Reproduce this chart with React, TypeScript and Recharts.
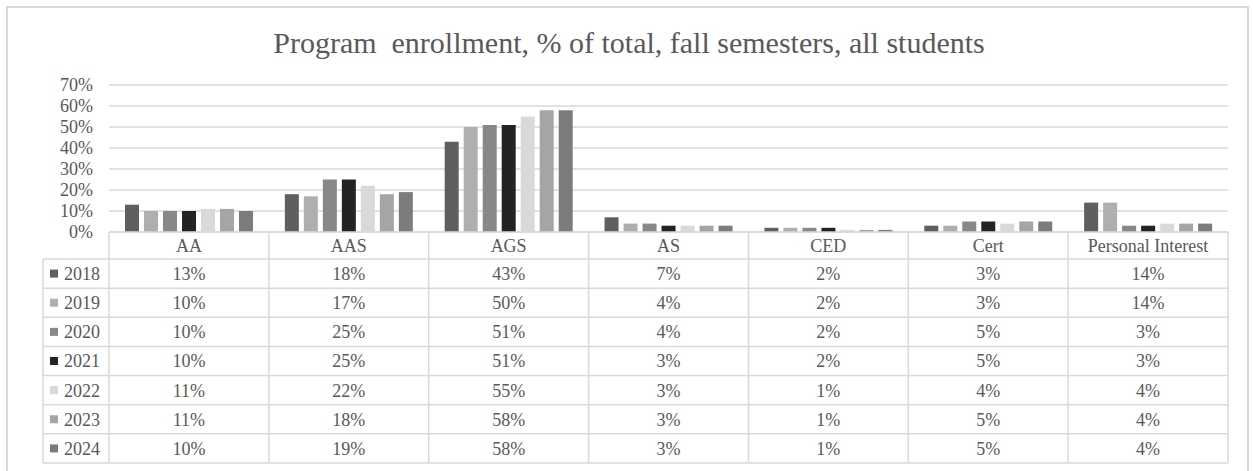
import React from 'react';
import { Bar, BarChart, CartesianGrid, XAxis, YAxis } from 'recharts';

const programs = ['AA', 'AAS', 'AGS', 'AS', 'CED', 'Cert', 'Personal Interest'];
const years = ['2018', '2019', '2020', '2021', '2022', '2023', '2024'];

const v2018 = [13, 18, 43, 7, 2, 3, 14];
const v2019 = [10, 17, 50, 4, 2, 3, 14];
const v2020 = [10, 25, 51, 4, 2, 5, 3];
const v2021 = [10, 25, 51, 3, 2, 5, 3];
const v2022 = [11, 22, 55, 3, 1, 4, 4];
const v2023 = [11, 18, 58, 3, 1, 5, 4];
const v2024 = [10, 19, 58, 3, 1, 5, 4];

const yTicks = [0, 10, 20, 30, 40, 50, 60, 70];

const seriesValues = [v2018, v2019, v2020, v2021, v2022, v2023, v2024];
const barColors = ['#5f5f5f', '#afafaf', '#888888', '#232323', '#d9d9d9', '#a5a5a5', '#7c7c7c'];

const data = programs.map((name, i) => {
  const row: Record<string, string | number> = { name };
  years.forEach((y, j) => {
    row[y] = seriesValues[j][i];
  });
  return row;
});

const FONT = 'Liberation Serif, DejaVu Serif, serif';
const TEXT = '#595959';
const LINE = '#d9d9d9';
const FS = 18;
const HEADER_H = 27;
const ROW_H = 29.14;

// each category tick draws its own column of the data table
const TableTick = (props: any) => {
  const { x, y, payload, index, width } = props;
  const band = (width || 1119) / programs.length;
  const left = x - band / 2;
  const right = x + band / 2;
  const bottom = y + HEADER_H + ROW_H * years.length;
  const legendLeft = 43;

  return (
    <g>
      <line x1={left} y1={y} x2={left} y2={bottom} stroke={LINE} strokeWidth={1.5} />
      {index === programs.length - 1 && (
        <line x1={right} y1={y} x2={right} y2={bottom} stroke={LINE} strokeWidth={1.5} />
      )}
      {years.map((_, k) => (
        <line
          key={k}
          x1={index === 0 ? legendLeft : left}
          y1={y + HEADER_H + ROW_H * k}
          x2={right}
          y2={y + HEADER_H + ROW_H * k}
          stroke={LINE}
          strokeWidth={1.5}
        />
      ))}
      <line
        x1={index === 0 ? legendLeft : left}
        y1={bottom}
        x2={right}
        y2={bottom}
        stroke={LINE}
        strokeWidth={1.5}
      />
      <text
        x={x}
        y={y + HEADER_H / 2}
        dy={6.5}
        textAnchor="middle"
        fontSize={FS}
        fontFamily={FONT}
        fill={TEXT}
      >
        {payload.value}
      </text>
      {years.map((yr, k) => (
        <text
          key={yr}
          x={x}
          y={y + HEADER_H + ROW_H * k + ROW_H / 2}
          dy={6.5}
          textAnchor="middle"
          fontSize={FS}
          fontFamily={FONT}
          fill={TEXT}
        >
          {seriesValues[k][index]}%
        </text>
      ))}
      {index === 0 && (
        <g>
          <line
            x1={legendLeft}
            y1={y + HEADER_H}
            x2={legendLeft}
            y2={bottom}
            stroke={LINE}
            strokeWidth={1.5}
          />
          {years.map((yr, k) => {
            const cy = y + HEADER_H + ROW_H * k + ROW_H / 2;
            return (
              <g key={yr}>
                <rect x={50} y={cy - 4} width={8} height={8} fill={barColors[k]} />
                <text
                  x={64}
                  y={cy}
                  dy={6.5}
                  fontSize={FS}
                  fontFamily={FONT}
                  fill={TEXT}
                >
                  {yr}
                </text>
              </g>
            );
          })}
        </g>
      )}
    </g>
  );
};

const App: React.FC = () => {
  return (
    <div style={{ position: 'absolute', left: 0, top: 0, width: 1253, height: 471, background: '#fff', overflow: 'hidden' }}>
      <div
        style={{
          position: 'absolute',
          left: 6,
          top: 6,
          width: 1243,
          height: 480,
          border: `2px solid ${LINE}`,
          boxSizing: 'border-box',
        }}
      />
      <div
        style={{
          position: 'absolute',
          left: 0,
          top: 26,
          width: 1258,
          textAlign: 'center',
          fontFamily: FONT,
          fontSize: 30,
          color: TEXT,
          whiteSpace: 'pre',
          lineHeight: '34px',
        }}
      >
        {'Program  enrollment, % of total, fall semesters, all students'}
      </div>
      <BarChart
        width={1253}
        height={471}
        data={data}
        margin={{ top: 85, right: 25, bottom: 8, left: 49 }}
        barCategoryGap="10%"
        barGap={5}
        style={{ position: 'absolute', left: 0, top: 0 }}
      >
        <CartesianGrid vertical={false} stroke={LINE} strokeWidth={1.5} />
        <XAxis
          dataKey="name"
          height={231}
          tickSize={0}
          tickMargin={0}
          axisLine={{ stroke: LINE, strokeWidth: 1.5 }}
          tickLine={false}
          interval={0}
          tick={<TableTick />}
        />
        <YAxis
          width={60}
          domain={[0, 70]}
          ticks={yTicks}
          interval={0}
          tickFormatter={(v: number) => `${v}%`}
          axisLine={false}
          tickLine={false}
          tickSize={0}
          tickMargin={16}
          tick={{ fill: TEXT, fontSize: FS, fontFamily: FONT }}
        />
        {years.map((yr, j) => (
          <Bar key={yr} dataKey={yr} fill={barColors[j]} isAnimationActive={false} />
        ))}
      </BarChart>
    </div>
  );
};

export default App;
